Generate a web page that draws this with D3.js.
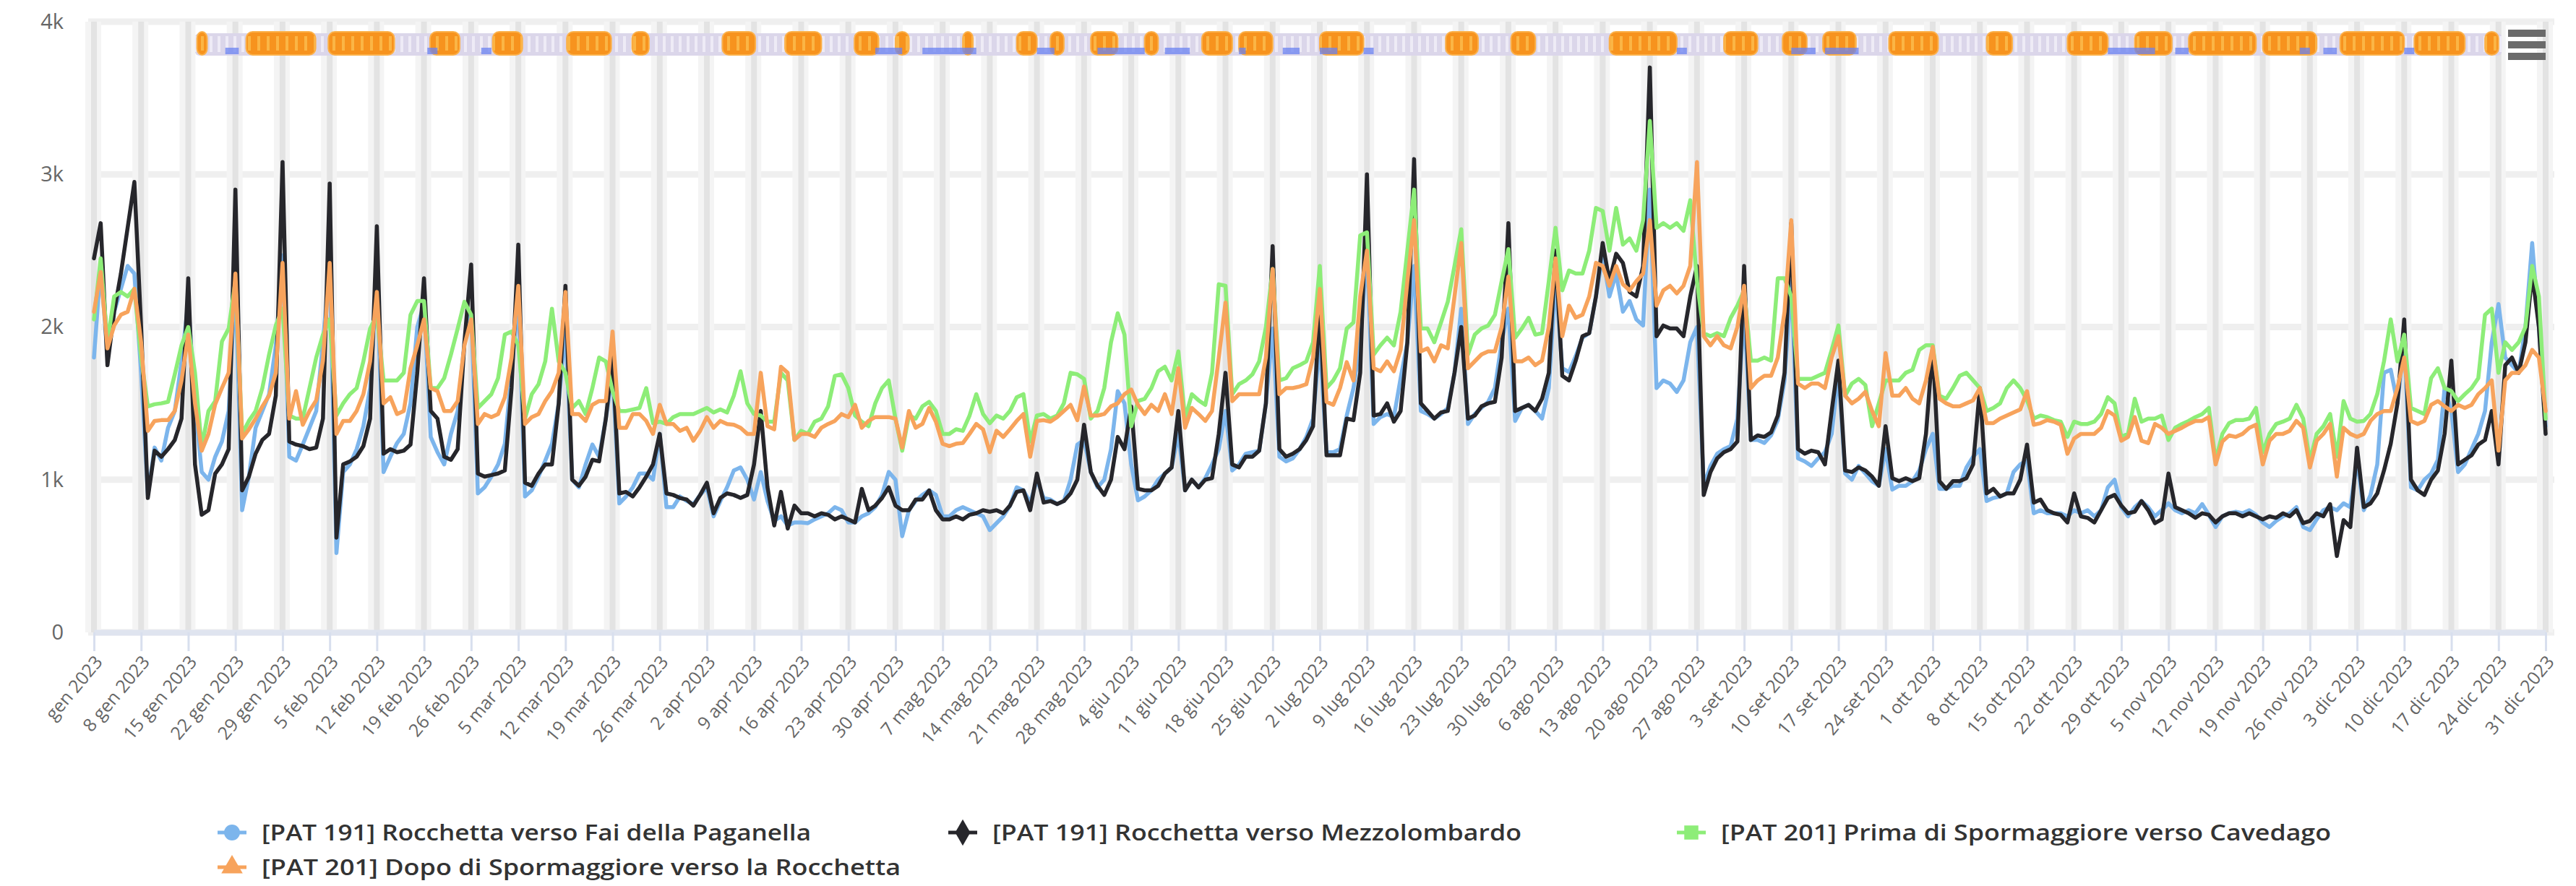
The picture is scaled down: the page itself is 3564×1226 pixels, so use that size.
<!DOCTYPE html>
<html><head><meta charset="utf-8">
<script src="https://cdn.jsdelivr.net/npm/d3@7"></script>
<style>body{margin:0;background:#fff;}svg{display:block;}</style>
</head><body>
<svg id="c" width="3564" height="1226"></svg>
<script>
const seriesNames = [
  "[PAT 191] Rocchetta verso Fai della Paganella",
  "[PAT 191] Rocchetta verso Mezzolombardo",
  "[PAT 201] Prima di Spormaggiore verso Cavedago",
  "[PAT 201] Dopo di Spormaggiore verso la Rocchetta"
];
const seriesColors = ["#7cb5ec", "#26262b", "#8ded78", "#f7a35c"];
const tickLabels = ["gen 2023","8 gen 2023","15 gen 2023","22 gen 2023","29 gen 2023","5 feb 2023","12 feb 2023","19 feb 2023","26 feb 2023","5 mar 2023","12 mar 2023","19 mar 2023","26 mar 2023","2 apr 2023","9 apr 2023","16 apr 2023","23 apr 2023","30 apr 2023","7 mag 2023","14 mag 2023","21 mag 2023","28 mag 2023","4 giu 2023","11 giu 2023","18 giu 2023","25 giu 2023","2 lug 2023","9 lug 2023","16 lug 2023","23 lug 2023","30 lug 2023","6 ago 2023","13 ago 2023","20 ago 2023","27 ago 2023","3 set 2023","10 set 2023","17 set 2023","24 set 2023","1 ott 2023","8 ott 2023","15 ott 2023","22 ott 2023","29 ott 2023","5 nov 2023","12 nov 2023","19 nov 2023","26 nov 2023","3 dic 2023","10 dic 2023","17 dic 2023","24 dic 2023","31 dic 2023"];
const yTicks = [0, 1000, 2000, 3000, 4000];
const yTickLabels = ["0", "1k", "2k", "3k", "4k"];

// [PAT 191] Rocchetta verso Fai della Paganella (daily, 1 gen - 31 dic 2023)
const blueVals = [
1800,2400,1800,2100,2250,2400,2350,
1700,900,1210,1125,1340,1450,1775,
2165,1500,1050,1000,1150,1250,1450,
2300,800,1020,1340,1450,1560,1880,
2470,1150,1125,1230,1340,1450,1900,
2420,520,1050,1100,1200,1350,1600,
2300,1050,1150,1240,1300,1500,2000,
2150,1280,1180,1100,1300,1450,1900,
2100,910,950,1020,1100,1235,1700,
2200,890,930,1020,1125,1235,1500,
2000,1000,950,1100,1230,1150,1400,
1700,845,890,950,1040,1040,1000,
1300,820,820,890,860,840,900,
950,760,860,950,1060,1080,1000,
870,1050,860,730,760,700,720,
720,715,740,760,780,820,800,
720,720,760,780,820,900,1050,
1000,630,800,860,900,930,900,
760,760,800,820,800,780,760,
670,715,760,830,950,930,850,
1000,880,870,840,860,1000,1230,
1260,1050,950,1000,1200,1580,1500,
1100,865,890,930,1000,1040,1080,
1300,930,1000,950,1010,1100,1200,
1450,1060,1100,1170,1180,1190,1500,
1990,1150,1120,1140,1200,1280,1400,
1900,1180,1180,1200,1420,1600,1900,
2500,1365,1410,1430,1410,1665,1900,
2400,1450,1430,1400,1430,1470,1700,
2120,1365,1430,1470,1510,1600,1900,
2120,1385,1470,1490,1450,1400,1600,
2300,1730,1705,1810,1930,1960,2200,
2470,2200,2350,2100,2170,2050,2010,
2900,1600,1650,1630,1575,1650,1900,
2000,960,1090,1170,1200,1220,1400,
2110,1260,1260,1240,1290,1390,1650,
2300,1140,1120,1090,1140,1180,1300,
1700,1040,1000,1090,1040,990,960,
1200,935,960,960,990,1060,1200,
1300,940,940,960,960,1080,1150,
1200,860,880,890,910,1050,1100,
1125,780,800,780,780,780,760,
800,780,800,760,800,950,1000,
820,760,820,860,820,760,800,
845,800,780,800,780,840,770,
690,760,780,790,780,800,770,
720,690,730,760,780,820,690,
670,740,800,820,800,845,820,
1125,800,900,1100,1700,1720,1500,
1900,950,930,1000,1040,1130,1600,
1450,1050,1100,1200,1300,1450,1900,
2150,1800,1750,1700,2000,2550,2000,
1350];

// [PAT 191] Rocchetta verso Mezzolombardo
const blackVals = [
2450,2680,1750,2100,2350,2650,2950,
2000,880,1190,1150,1200,1260,1400,
2320,1100,770,800,1040,1100,1200,
2900,930,1020,1170,1260,1300,1550,
3080,1250,1230,1220,1200,1210,1400,
2940,620,1100,1120,1150,1220,1400,
2660,1170,1200,1180,1190,1230,1700,
2320,1450,1400,1150,1130,1200,1900,
2410,1040,1020,1030,1040,1060,1600,
2540,980,960,1040,1100,1100,1500,
2270,1000,960,1020,1130,1120,1400,
1800,910,920,890,950,1020,1100,
1300,910,900,880,870,830,900,
980,780,880,910,900,880,900,
1100,1450,950,700,920,680,830,
780,780,760,780,770,740,760,
740,720,940,800,830,880,950,
830,800,800,870,870,930,800,
740,740,760,740,770,780,800,
790,800,780,830,920,930,800,
1040,850,860,840,860,910,1000,
1360,1050,960,900,1000,1280,1200,
1480,940,930,930,960,1040,1080,
1450,930,1000,950,1000,1010,1300,
1700,1100,1080,1150,1150,1190,1500,
2530,1200,1150,1170,1200,1260,1350,
2150,1160,1160,1160,1400,1390,1700,
3000,1420,1430,1500,1380,1450,1900,
3100,1500,1450,1400,1440,1450,1700,
2000,1400,1420,1480,1500,1510,1800,
2680,1450,1470,1490,1450,1530,1700,
2500,1680,1650,1780,1940,1960,2200,
2550,2300,2480,2420,2230,2200,2400,
3700,1940,2010,1990,1990,1940,2200,
2400,900,1050,1140,1180,1200,1250,
2400,1260,1290,1280,1310,1420,1700,
2680,1200,1170,1190,1180,1100,1450,
1780,1060,1050,1080,1060,1020,960,
1350,1010,990,1010,990,1010,1300,
1870,990,940,990,990,1010,1100,
1600,910,940,890,910,910,1000,
1230,850,870,800,780,770,720,
910,760,750,720,800,880,900,
830,780,790,860,800,715,740,
1040,820,800,780,750,780,770,
720,760,780,780,760,780,760,
740,760,750,780,760,800,715,
730,780,760,840,500,735,690,
1210,820,845,910,1060,1235,1500,
2050,1000,930,900,1000,1060,1300,
1780,1100,1130,1160,1230,1260,1450,
1100,1750,1800,1700,1900,2350,2000,
1300];

// [PAT 201] Prima di Spormaggiore verso Cavedago
const greenVals = [
2050,2450,1900,2200,2230,2200,2250,
1800,1480,1494,1500,1510,1690,1880,
2000,1700,1212,1450,1515,1905,1990,
2300,1300,1385,1450,1600,1820,2010,
2120,1420,1400,1400,1600,1800,1950,
2050,1420,1500,1560,1600,1775,1990,
2080,1650,1650,1650,1700,2080,2170,
2170,1600,1600,1665,1820,1990,2165,
2080,1470,1515,1560,1665,1950,1970,
1880,1400,1560,1625,1775,2120,1775,
1700,1470,1515,1430,1600,1800,1775,
1580,1450,1450,1460,1470,1600,1370,
1380,1365,1410,1430,1430,1430,1450,
1470,1440,1460,1440,1550,1710,1500,
1430,1420,1380,1380,1700,1650,1260,
1320,1300,1380,1400,1480,1680,1690,
1600,1420,1380,1350,1500,1600,1650,
1400,1190,1420,1400,1480,1510,1450,
1300,1300,1330,1320,1420,1560,1430,
1370,1420,1400,1450,1540,1560,1250,
1420,1430,1400,1420,1500,1700,1690,
1660,1400,1450,1600,1900,2090,1950,
1350,1515,1530,1600,1710,1740,1650,
1840,1400,1560,1520,1490,1700,2280,
2270,1560,1625,1650,1690,1775,2000,
2380,1650,1665,1730,1750,1775,1900,
2400,1600,1650,1730,1990,2030,2600,
2620,1820,1880,1930,1880,2100,2500,
2900,1990,1990,1900,2030,2165,2400,
2640,1820,1950,1990,2010,2080,2300,
2510,1930,1990,2060,1950,1960,2300,
2650,2240,2370,2350,2350,2500,2780,
2760,2500,2780,2540,2580,2500,2700,
3350,2650,2680,2650,2680,2630,2830,
2300,1960,1940,1960,1940,2060,2140,
2240,1780,1780,1800,1780,2320,2320,
2200,1660,1660,1660,1680,1700,1850,
2010,1550,1630,1660,1620,1350,1500,
1650,1650,1650,1700,1720,1850,1880,
1880,1550,1530,1600,1680,1700,1650,
1600,1450,1470,1500,1600,1650,1600,
1520,1400,1420,1410,1390,1380,1280,
1380,1365,1365,1380,1430,1540,1500,
1280,1300,1530,1380,1400,1400,1420,
1260,1340,1365,1385,1410,1430,1470,
1125,1300,1370,1390,1390,1400,1470,
1180,1300,1365,1380,1400,1490,1400,
1125,1300,1350,1430,1150,1515,1400,
1380,1385,1430,1560,1775,2050,1775,
1950,1470,1450,1430,1665,1730,1600,
1580,1515,1560,1600,1665,2080,2120,
1700,1900,1850,1900,2000,2400,2200,
1400];

// [PAT 201] Dopo di Spormaggiore verso la Rocchetta
const orangeVals = [
2100,2360,1860,2010,2080,2100,2250,
1900,1320,1385,1390,1390,1450,1650,
1950,1500,1190,1300,1494,1600,1700,
2350,1270,1330,1400,1480,1550,1700,
2420,1400,1580,1360,1450,1520,1780,
2420,1300,1385,1385,1450,1560,1775,
2230,1500,1540,1430,1450,1730,1880,
2050,1600,1580,1450,1450,1515,1880,
2050,1365,1430,1410,1430,1540,1800,
2270,1365,1410,1430,1515,1580,1700,
2230,1430,1430,1385,1490,1515,1515,
1970,1340,1340,1430,1430,1385,1300,
1490,1365,1365,1320,1340,1255,1320,
1410,1340,1385,1365,1360,1340,1300,
1300,1700,1350,1330,1740,1700,1260,
1300,1300,1280,1340,1365,1385,1430,
1410,1490,1340,1385,1410,1410,1410,
1400,1210,1450,1340,1365,1470,1380,
1235,1220,1235,1240,1300,1365,1330,
1180,1320,1280,1330,1385,1430,1150,
1385,1390,1380,1410,1450,1490,1390,
1610,1420,1420,1430,1480,1500,1560,
1590,1490,1430,1490,1450,1560,1430,
1730,1340,1470,1430,1385,1450,1800,
2160,1515,1560,1560,1560,1560,1800,
2380,1560,1600,1600,1610,1625,1800,
2250,1510,1490,1600,1770,1650,2200,
2500,1730,1710,1775,1710,1850,2300,
2700,1840,1860,1775,1880,1860,2200,
2550,1730,1775,1820,1840,1840,2000,
2330,1775,1775,1800,1750,1780,2000,
2450,1940,2140,2060,2080,2200,2420,
2400,2270,2400,2280,2240,2300,2350,
2700,2140,2240,2270,2220,2270,2400,
3080,1940,1880,1940,1880,1860,2000,
2270,1600,1650,1680,1680,1800,2100,
2700,1630,1600,1630,1630,1600,1800,
1940,1550,1500,1530,1575,1450,1350,
1830,1550,1550,1600,1530,1500,1650,
1870,1530,1500,1480,1480,1500,1520,
1600,1370,1370,1400,1420,1440,1460,
1580,1360,1370,1390,1380,1360,1170,
1270,1300,1300,1300,1340,1450,1420,
1255,1280,1410,1255,1240,1365,1340,
1300,1320,1340,1365,1385,1385,1410,
1100,1250,1290,1280,1300,1340,1360,
1100,1255,1300,1300,1320,1385,1340,
1080,1255,1300,1365,1020,1340,1300,
1280,1300,1385,1430,1450,1450,1600,
1800,1385,1365,1385,1490,1515,1480,
1450,1490,1470,1490,1560,1600,1650,
1190,1650,1700,1700,1750,1850,1800,
1450];

// top strip (day ranges)
const stripOrange = [[15.3,16.8],[22.6,32.9],[34.8,44.6],[49.9,54.3],[59.2,63.6],[70.2,76.8],[79.9,82.4],[93.3,98.2],[102.6,108],[112.9,116.5],[119,121],[129,130.5],[137,140],[142,144],[148,152],[156,158],[164.5,169],[170,175],[182,188.5],[200.7,205.5],[210.4,214],[225,235],[242,247],[250.7,254.3],[256.7,261.6],[266.5,273.8],[281,284.8],[293,299],[303,308.5],[311,321],[322,330],[333.5,343],[344.5,352],[355,357]];
const stripBlue = [[19.5,21.5],[49.5,51],[57.5,59],[116,120],[123,131],[140,142.6],[149,156],[159,162.7],[170,171],[176.5,179],[182,184.6],[188.5,190],[235,236.5],[252,255.6],[257,262],[299,306],[309,311],[327.5,329],[331,333],[343,344.5]];

const series = [blueVals, blackVals, greenVals, orangeVals];

const svg = d3.select("#c");
const x = d3.scaleLinear().domain([0, 364]).range([130, 3522]);
const y = d3.scaleLinear().domain([0, 4000]).range([875, 30]);
const tickDays = d3.range(0, 365, 7);

// patterns for the top strip texture
const defs = svg.append("defs");
const po = defs.append("pattern").attr("id", "pOr").attr("patternUnits", "userSpaceOnUse")
  .attr("width", 13).attr("height", 32).attr("y", 44);
po.append("rect").attr("width", 13).attr("height", 32).attr("fill", "#f7931e");
po.append("rect").attr("x", 5).attr("y", 6).attr("width", 4).attr("height", 20).attr("fill", "#fbb545");
const pl = defs.append("pattern").attr("id", "pLav").attr("patternUnits", "userSpaceOnUse")
  .attr("width", 11).attr("height", 32).attr("y", 46);
pl.append("rect").attr("width", 11).attr("height", 32).attr("fill", "#dbd6ea");
pl.append("rect").attr("x", 4).attr("y", 4).attr("width", 4).attr("height", 22).attr("fill", "#eeebf6");

// horizontal grid
svg.append("g").selectAll("line").data(yTicks).join("line")
  .attr("x1", 122).attr("x2", 3534)
  .attr("y1", d => y(d)).attr("y2", d => y(d))
  .attr("stroke", "#efefef").attr("stroke-width", 9);

// vertical bands
const vg = svg.append("g");
vg.selectAll("rect").data(tickDays).join("rect")
  .attr("x", d => x(d) - 12).attr("width", 22)
  .attr("y", 30).attr("height", 845).attr("fill", "#f4f4f4");
vg.selectAll("line").data(tickDays).join("line")
  .attr("x1", d => x(d)).attr("x2", d => x(d))
  .attr("y1", 30).attr("y2", 875)
  .attr("stroke", "#e3e3e3").attr("stroke-width", 8);

// x axis
const xAxis = d3.axisBottom(x).tickValues(tickDays)
  .tickFormat((d, i) => tickLabels[i]).tickSize(26).tickSizeOuter(0);
const gx = svg.append("g").attr("transform", "translate(0,875)").call(xAxis);
gx.select(".domain").attr("stroke", "#dfe4ef").attr("stroke-width", 8);
gx.selectAll(".tick line").attr("stroke", "#d8dfee").attr("stroke-width", 3);
gx.selectAll(".tick text")
  .attr("font-family", "Open Sans, DejaVu Sans, sans-serif")
  .attr("font-size", 25).attr("fill", "#666")
  .attr("text-anchor", "end")
  .attr("y", 0).attr("x", 0).attr("dy", "0.35em")
  .attr("transform", "translate(6,36) rotate(-50)");

// y axis
const yAxis = d3.axisLeft(y).tickValues(yTicks)
  .tickFormat((d, i) => yTickLabels[i]).tickSize(0).tickPadding(0);
const gy = svg.append("g").attr("transform", "translate(88,0)").call(yAxis);
gy.select(".domain").remove();
gy.selectAll(".tick text")
  .attr("font-family", "Open Sans, DejaVu Sans, sans-serif")
  .attr("font-size", 29).attr("fill", "#666");

// top strip
const sg = svg.append("g");
sg.append("rect").attr("x", x(15)).attr("width", x(357.5) - x(15))
  .attr("y", 46).attr("height", 31).attr("fill", "url(#pLav)").attr("rx", 6);
sg.selectAll("rect.o").data(stripOrange).join("rect").attr("class", "o")
  .attr("x", d => x(d[0])).attr("width", d => x(d[1]) - x(d[0]))
  .attr("y", 44).attr("height", 32).attr("rx", 9)
  .attr("fill", "url(#pOr)").attr("stroke", "#fbb14a").attr("stroke-width", 2);
sg.selectAll("rect.b").data(stripBlue).join("rect").attr("class", "b")
  .attr("x", d => x(d[0])).attr("width", d => x(d[1]) - x(d[0]))
  .attr("y", 66).attr("height", 9).attr("fill", "#6b83f2").attr("opacity", 0.75);

// series lines
const line = d3.line().x((d, i) => x(i)).y(d => y(d));
svg.append("g").selectAll("path").data(series).join("path")
  .attr("d", d => line(d))
  .attr("fill", "none")
  .attr("stroke", (d, i) => seriesColors[i])
  .attr("stroke-width", 5.5)
  .attr("stroke-linejoin", "round").attr("stroke-linecap", "round");

// menu icon
svg.append("g").selectAll("rect").data([0, 1, 2]).join("rect")
  .attr("x", 3470).attr("width", 52).attr("height", 10)
  .attr("y", d => 41 + d * 16).attr("fill", "#6b6b6b");

// legend
const legendPos = [[321, 1152, 760], [1332, 1152, 732], [2340, 1152, 844], [321, 1200, 884]];
const symTypes = [d3.symbolCircle, d3.symbolDiamond, d3.symbolSquare, d3.symbolTriangle];
const lg = svg.append("g").selectAll("g").data(seriesNames).join("g")
  .attr("transform", (d, i) => `translate(${legendPos[i][0]},${legendPos[i][1]})`);
lg.append("line").attr("x1", -20).attr("x2", 20).attr("y1", 0).attr("y2", 0)
  .attr("stroke", (d, i) => seriesColors[i]).attr("stroke-width", 5);
lg.append("path").attr("d", (d, i) => d3.symbol(symTypes[i], 380)())
  .attr("fill", (d, i) => seriesColors[i]);
lg.append("text").attr("x", 41).attr("y", 0).attr("dy", "0.36em")
  .attr("font-family", "Open Sans, DejaVu Sans, sans-serif")
  .attr("font-weight", 600).attr("font-size", 31).attr("fill", "#333")
  .attr("textLength", (d, i) => legendPos[i][2]).attr("lengthAdjust", "spacingAndGlyphs")
  .text(d => d);
</script>
</body></html>
